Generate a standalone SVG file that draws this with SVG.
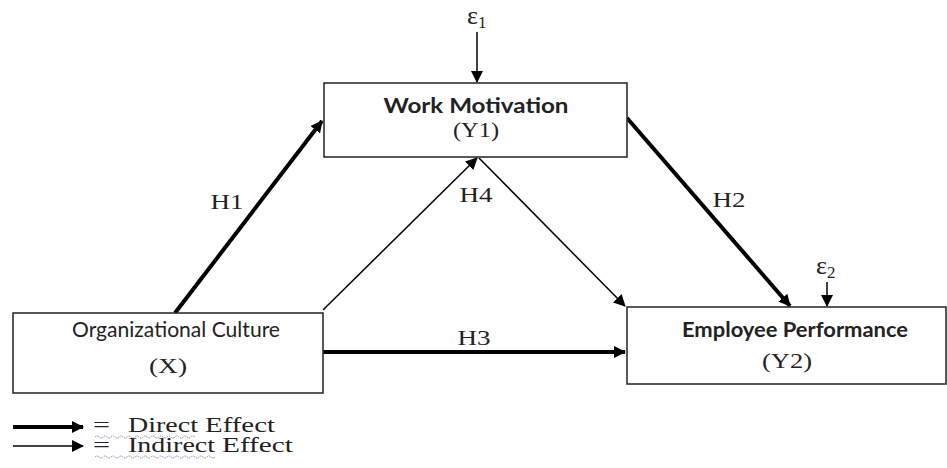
<svg xmlns="http://www.w3.org/2000/svg" width="947" height="468" viewBox="0 0 947 468">
<style>
.box{fill:#fff;stroke:#222;stroke-width:1.5}
.thick{stroke:#000;stroke-width:4;fill:none}
.thin{stroke:#000;stroke-width:1.5;fill:none}
.serif{font-family:"Liberation Serif","DejaVu Serif",serif;fill:#222}
.sans{font-family:"Lato","Liberation Sans",sans-serif;fill:#222}
.lab{font-size:21px}
.leg{font-size:20px}
.sq{stroke:#7f8fa6;stroke-width:1;fill:none;stroke-dasharray:1.5 1}
</style>
<defs>
<marker id="ahs" markerWidth="12" markerHeight="12" refX="11" refY="6" orient="auto" markerUnits="userSpaceOnUse"><path d="M0,0 L12,6 L0,12 Z" fill="#000"/></marker>
</defs>
<rect width="947" height="468" fill="#fff"/>
<g id="connectors">
<line class="thin" x1="477" y1="32" x2="477" y2="82" marker-end="url(#ahs)"/>
<line class="thin" x1="827" y1="282" x2="827" y2="306" marker-end="url(#ahs)"/>
<line class="thick" x1="175" y1="313" x2="322" y2="121" marker-end="url(#ahs)"/>
<line class="thin" x1="323" y1="310" x2="477" y2="158" marker-end="url(#ahs)"/>
<line class="thin" x1="479" y1="158" x2="625" y2="306" marker-end="url(#ahs)"/>
<line class="thick" x1="627" y1="118" x2="790" y2="306" marker-end="url(#ahs)"/>
<line class="thick" x1="323" y1="352" x2="625" y2="352" marker-end="url(#ahs)"/>
<text class="serif lab" x="227" y="209" text-anchor="middle" textLength="33" lengthAdjust="spacingAndGlyphs">H1</text>
<text class="serif lab" x="476" y="202" text-anchor="middle" textLength="33" lengthAdjust="spacingAndGlyphs">H4</text>
<text class="serif lab" x="729" y="207" text-anchor="middle" textLength="33" lengthAdjust="spacingAndGlyphs">H2</text>
<text class="serif lab" x="474" y="345" text-anchor="middle" textLength="33" lengthAdjust="spacingAndGlyphs">H3</text>
<text class="serif" x="467" y="24" font-size="26">ε<tspan font-size="17" dy="4">1</tspan></text>
<text class="serif" x="816" y="274" font-size="26">ε<tspan font-size="17" dy="4">2</tspan></text>
</g>
<g id="work-motivation">
<rect class="box" x="324" y="83" width="303" height="74"/>
<text class="sans" x="476" y="113" font-size="21" font-weight="bold" text-anchor="middle" textLength="185" lengthAdjust="spacingAndGlyphs">Work Motivation</text>
<text class="serif" x="476" y="137" font-size="21" text-anchor="middle" textLength="46" lengthAdjust="spacingAndGlyphs">(Y1)</text>
</g>
<g id="organizational-culture">
<rect class="box" x="13" y="313" width="310" height="80"/>
<text class="sans" x="176" y="337" font-size="21" text-anchor="middle" textLength="208" lengthAdjust="spacingAndGlyphs">Organizational Culture</text>
<text class="serif" x="168" y="373" font-size="21" text-anchor="middle" textLength="38" lengthAdjust="spacingAndGlyphs">(X)</text>
</g>
<g id="employee-performance">
<rect class="box" x="627" y="307" width="319" height="77"/>
<text class="sans" x="795" y="337" font-size="21" font-weight="bold" text-anchor="middle" textLength="226" lengthAdjust="spacingAndGlyphs">Employee Performance</text>
<text class="serif" x="787" y="368" font-size="21" text-anchor="middle" textLength="50" lengthAdjust="spacingAndGlyphs">(Y2)</text>
</g>
<g id="legend">
<line class="thick" x1="13" y1="427" x2="83" y2="427" marker-end="url(#ahs)"/>
<line class="thin" x1="13" y1="446" x2="83" y2="446" marker-end="url(#ahs)"/>
<text class="serif leg" y="432"><tspan x="93" textLength="17" lengthAdjust="spacingAndGlyphs">=</tspan><tspan x="128" textLength="70" lengthAdjust="spacingAndGlyphs">Direct</tspan><tspan x="205" textLength="70" lengthAdjust="spacingAndGlyphs">Effect</tspan></text>
<text class="serif leg" y="452"><tspan x="93" textLength="17" lengthAdjust="spacingAndGlyphs">=</tspan><tspan x="128" textLength="87" lengthAdjust="spacingAndGlyphs">Indirect</tspan><tspan x="222" textLength="71" lengthAdjust="spacingAndGlyphs">Effect</tspan></text>
<path class="sq" d="M95,437 q2,-2 4,0 t4,0 t4,0 t4,0 t4,0 t4,0 t4,0 t4,0 t4,0 t4,0 t4,0 t4,0 t4,0 t4,0 t4,0 t4,0 t4,0 t4,0 t4,0 t4,0 t4,0 t4,0 t4,0 t4,0 t4,0"/>
<path class="sq" d="M95,457 q2,-2 4,0 t4,0 t4,0 t4,0 t4,0 t4,0 t4,0 t4,0 t4,0 t4,0 t4,0 t4,0 t4,0 t4,0 t4,0 t4,0 t4,0 t4,0 t4,0 t4,0 t4,0 t4,0 t4,0 t4,0 t4,0 t4,0 t4,0 t4,0 t4,0 t4,0"/>
</g>
</svg>
